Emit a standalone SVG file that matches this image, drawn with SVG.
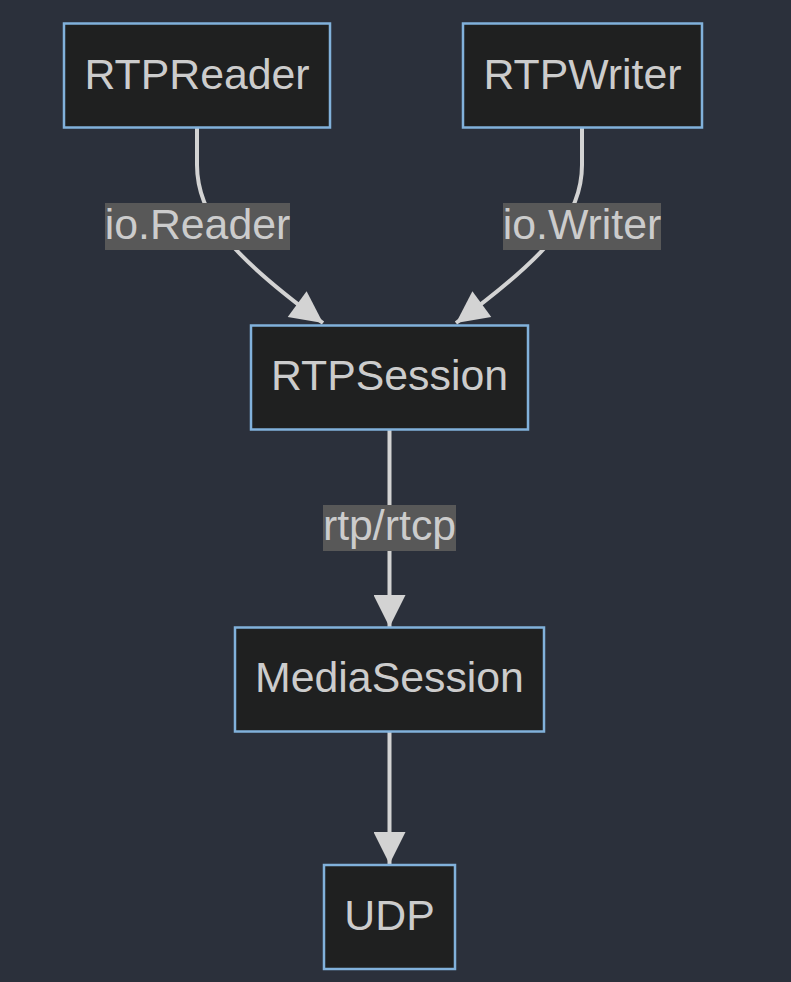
<svg xmlns="http://www.w3.org/2000/svg" width="791" height="982" viewBox="0 0 791 982">
<style>
.node rect{fill:#1f2020;stroke:#81b1db;stroke-width:2.5}
.node text,.lbl text{font-family:"Liberation Sans",Arial,sans-serif;font-size:42.8px;fill:#cccccc;text-anchor:middle}
.edge{fill:none;stroke:#d3d3d3;stroke-width:4;marker-end:url(#arr)}
.lbl rect{fill:#585858}
</style>
<defs>
<marker id="arr" viewBox="0 0 10 10" refX="10" refY="5" markerUnits="userSpaceOnUse" markerWidth="33" markerHeight="32" orient="auto">
<path d="M0,0 L10,5 L0,10 Z" fill="#d3d3d3"/>
</marker>
</defs>
<rect width="791" height="982" fill="#2b303b"/>
<g id="connectors">
<path class="edge" d="M197,128 L197,165 C197,215 230,255 323,323"/>
<path class="edge" d="M582,128 L582,165 C582,215 549,255 456,323"/>
<path class="edge" d="M389.5,430 L389.5,627"/>
<path class="edge" d="M389.5,732 L389.5,864"/>
<g class="lbl"><rect x="105" y="203" width="185" height="47"/><text x="197.5" y="238.5">io.Reader</text></g>
<g class="lbl"><rect x="503" y="203" width="158" height="47"/><text x="582" y="238.5">io.Writer</text></g>
<g class="lbl"><rect x="323" y="505" width="133" height="46"/><text x="389.5" y="540">rtp/rtcp</text></g>
</g>
<g id="RTPReader" class="node"><rect x="64" y="23.5" width="266" height="104"/><text x="197" y="88.5">RTPReader</text></g>
<g id="RTPWriter" class="node"><rect x="463" y="23.5" width="239" height="104"/><text x="582.5" y="88.5">RTPWriter</text></g>
<g id="RTPSession" class="node"><rect x="251" y="325.5" width="277" height="104"/><text x="389.5" y="390">RTPSession</text></g>
<g id="MediaSession" class="node"><rect x="235" y="627.5" width="309" height="104"/><text x="389.5" y="692">MediaSession</text></g>
<g id="UDP" class="node"><rect x="324" y="865" width="131" height="104"/><text x="389.5" y="929.5">UDP</text></g>
</svg>
